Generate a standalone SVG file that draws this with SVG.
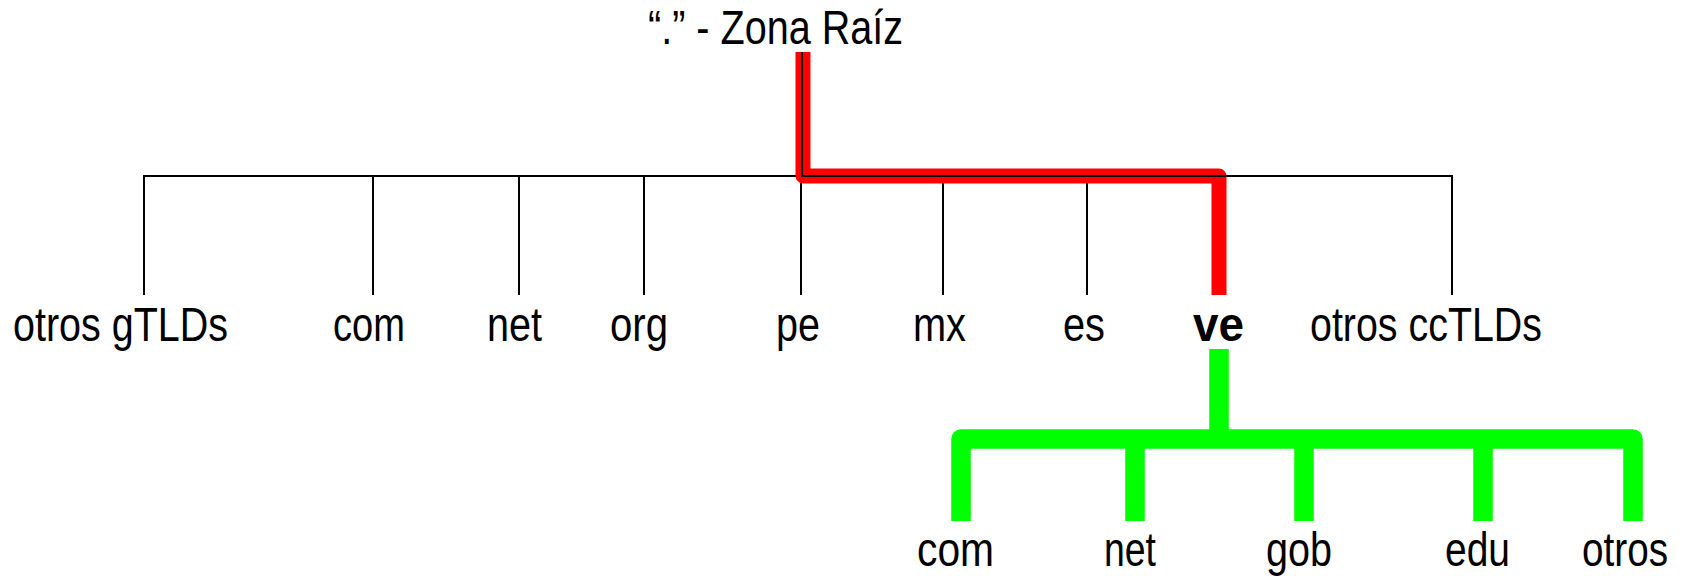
<svg xmlns="http://www.w3.org/2000/svg" width="1683" height="576" viewBox="0 0 1683 576">
<style>
.t{font-family:"Liberation Sans",Arial,sans-serif;font-size:49px;fill:#000}
.h{font-size:48px}
.b{font-weight:bold}
.k{stroke:#000;stroke-width:2;fill:none}
.r{stroke:#FF0000;stroke-width:15;fill:none;stroke-linejoin:round}
.g{stroke:#00FF00;stroke-width:19.5;fill:none;stroke-linejoin:round}
</style>
<rect width="1683" height="576" fill="#fff"/>
<g id="connectors">
<path class="k" d="M144,295V176H1452V295"/>
<path class="k" d="M373,176V295M519,176V295M644,176V295M801,176V295M943,176V295M1087,176V295M1219,176V295"/>
<path class="r" d="M803,52V176H1219V295"/>
<path class="k" d="M802,52V176H1226"/>
<path class="g" d="M961,521V439H1633V521"/>
<path class="g" d="M1219,349V439M1135,439V521M1304,439V521M1483,439V521"/>
</g>
<g id="root"><text class="t h" x="648" y="44" textLength="255" lengthAdjust="spacingAndGlyphs">“.” - Zona Raíz</text></g>
<g id="otros-gtlds"><text class="t" x="13" y="341" textLength="215" lengthAdjust="spacingAndGlyphs">otros gTLDs</text></g>
<g id="com"><text class="t" x="333" y="341" textLength="72" lengthAdjust="spacingAndGlyphs">com</text></g>
<g id="net"><text class="t" x="487" y="341" textLength="55" lengthAdjust="spacingAndGlyphs">net</text></g>
<g id="org"><text class="t" x="610" y="341" textLength="58" lengthAdjust="spacingAndGlyphs">org</text></g>
<g id="pe"><text class="t" x="776" y="341" textLength="44" lengthAdjust="spacingAndGlyphs">pe</text></g>
<g id="mx"><text class="t" x="913" y="341" textLength="53" lengthAdjust="spacingAndGlyphs">mx</text></g>
<g id="es"><text class="t" x="1063" y="341" textLength="42" lengthAdjust="spacingAndGlyphs">es</text></g>
<g id="ve"><text class="t b" x="1193" y="341" textLength="51" lengthAdjust="spacingAndGlyphs">ve</text></g>
<g id="otros-cctlds"><text class="t" x="1310" y="341" textLength="232" lengthAdjust="spacingAndGlyphs">otros ccTLDs</text></g>
<g id="ve-com"><text class="t" x="917" y="566" textLength="77" lengthAdjust="spacingAndGlyphs">com</text></g>
<g id="ve-net"><text class="t" x="1104" y="566" textLength="52" lengthAdjust="spacingAndGlyphs">net</text></g>
<g id="ve-gob"><text class="t" x="1266" y="566" textLength="66" lengthAdjust="spacingAndGlyphs">gob</text></g>
<g id="ve-edu"><text class="t" x="1445" y="566" textLength="65" lengthAdjust="spacingAndGlyphs">edu</text></g>
<g id="ve-otros"><text class="t" transform="translate(1582,566) scale(0.79,1)" x="0" y="0">otros</text></g>
</svg>
